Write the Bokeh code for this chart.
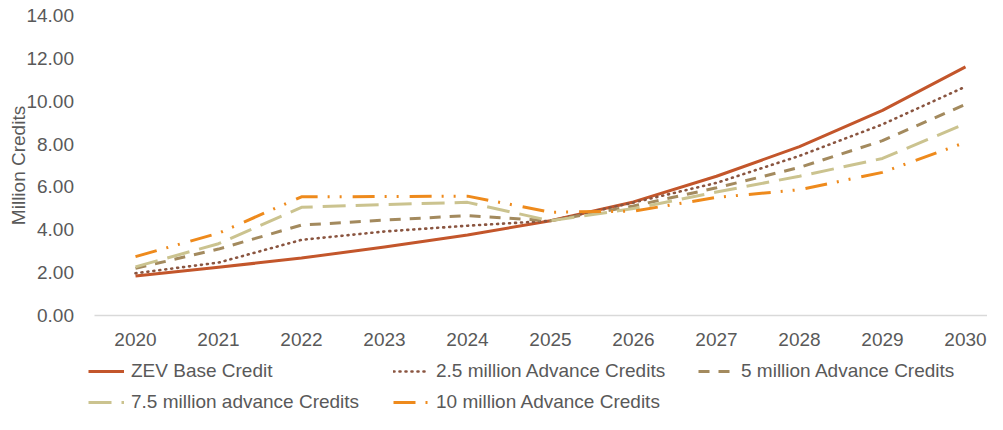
from bokeh.plotting import figure
from bokeh.models import Range1d, FixedTicker, NumeralTickFormatter, Legend, LegendItem
from bokeh.embed import file_html
from bokeh.resources import INLINE

years = [2020, 2021, 2022, 2023, 2024, 2025, 2026, 2027, 2028, 2029, 2030]
year_labels = [str(y) for y in years]
zev_base = [1.84, 2.25, 2.68, 3.20, 3.76, 4.42, 5.30, 6.50, 7.88, 9.57, 11.60]
adv_2_5 = [1.97, 2.47, 3.53, 3.92, 4.19, 4.42, 5.27, 6.19, 7.45, 8.92, 10.68]
adv_5 = [2.20, 3.10, 4.22, 4.45, 4.66, 4.42, 5.11, 5.96, 6.91, 8.16, 9.85]
adv_7_5 = [2.27, 3.35, 5.05, 5.18, 5.28, 4.42, 4.99, 5.76, 6.50, 7.33, 8.95]
adv_10 = [2.75, 3.84, 5.54, 5.55, 5.57, 4.82, 4.87, 5.51, 5.87, 6.68, 8.08]
y_ticks = [0, 2, 4, 6, 8, 10, 12, 14]
series_names = ["ZEV Base Credit", "2.5 million Advance Credits", "5 million Advance Credits",
                "7.5 million advance Credits", "10 million Advance Credits"]

FONT = "Liberation Sans"
GRAY = "#595959"

W, H = 987, 414
PX_PER_YEAR = 83.0
PX_PER_UNIT = 300 / 14.0
X2020 = 135.0      # canvas px of 2020
Y0 = 315.0         # canvas px of value 0
x_start = 2020 - X2020 / PX_PER_YEAR
x_end = 2020 + (W - X2020) / PX_PER_YEAR
y_end = Y0 / PX_PER_UNIT
y_start = y_end - H / PX_PER_UNIT

p = figure(width=W, height=H, output_backend="svg", toolbar_location=None,
           x_range=Range1d(x_start, x_end), y_range=Range1d(y_start, y_end),
           min_border_left=0, min_border_right=0, min_border_top=0, min_border_bottom=0)
p.outline_line_color = None
p.xgrid.visible = False
p.ygrid.visible = False

styles = [
    dict(color="#C3562B", width=3, dash="solid", cap="butt"),
    dict(color="#8A5540", width=2.6, dash="1 5", cap="round"),
    dict(color="#A38A5E", width=3, dash="11 9", cap="butt"),
    dict(color="#CBC38F", width=3, dash="23 10", cap="butt"),
    dict(color="#EE8A1C", width=3, dash="22 10 2 10 2 11", cap="butt"),
]
series = [zev_base, adv_2_5, adv_5, adv_7_5, adv_10]
renderers = []
for vals, st in zip(series, styles):
    r = p.line(years, vals, line_color=st["color"], line_width=st["width"],
               line_dash=st["dash"], line_cap=st["cap"], line_join="round")
    renderers.append(r)

# x axis drawn at value 0
xa = p.xaxis[0]
xa.fixed_location = 0
xa.bounds = (2019.5, x_end)
xa.ticker = FixedTicker(ticks=years)
xa.major_label_overrides = {y: lab for y, lab in zip(years, year_labels)}
xa.axis_line_color = "#D9D9D9"
xa.axis_line_width = 1.5
xa.major_tick_line_color = None
xa.minor_tick_line_color = None
xa.major_tick_out = 0
xa.minor_tick_out = 0
xa.major_label_text_font = FONT
xa.major_label_text_font_size = "19px"
xa.major_label_text_color = GRAY
xa.major_label_standoff = 17

# y axis drawn at the left edge of the plotting area
ya = p.yaxis[0]
ya.fixed_location = 2019.5
ya.bounds = (0, 14)
ya.ticker = FixedTicker(ticks=y_ticks)
ya.formatter = NumeralTickFormatter(format="0.00")
ya.axis_line_color = None
ya.major_tick_line_color = None
ya.minor_tick_line_color = None
ya.major_tick_out = 0
ya.minor_tick_out = 0
ya.major_label_text_font = FONT
ya.major_label_text_font_size = "19px"
ya.major_label_text_color = GRAY
ya.major_label_standoff = 20
ya.axis_label = "Million Credits"
ya.axis_label_text_font = FONT
ya.axis_label_text_font_size = "19px"
ya.axis_label_text_font_style = "normal"
ya.axis_label_text_color = GRAY
ya.axis_label_standoff = -5

# legend: one box per item, 3 columns x 2 rows
positions = [(88, 32), (393, 32), (698, 32), (88, 1), (393, 1)]
for name, r, loc in zip(series_names, renderers, positions):
    leg = Legend(items=[LegendItem(label=name, renderers=[r])], location=loc,
                 padding=0, margin=0, spacing=0, glyph_width=36, glyph_height=20,
                 label_height=20, label_standoff=7, border_line_color=None,
                 background_fill_alpha=0, label_text_font=FONT,
                 label_text_font_size="19px", label_text_color=GRAY)
    p.add_layout(leg)

open("out.html", "w").write(file_html(p, INLINE))
